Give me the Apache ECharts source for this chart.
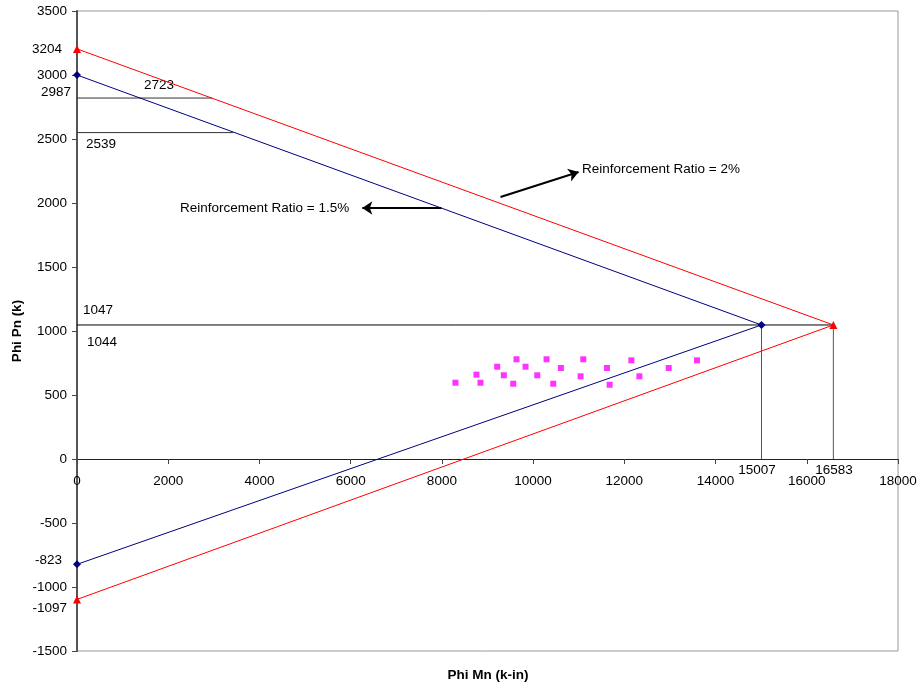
<!DOCTYPE html>
<html><head><meta charset="utf-8">
<script src="https://cdn.jsdelivr.net/npm/echarts@6/dist/echarts.min.js"></script>
<style>html,body{margin:0;padding:0;background:#fff}#c{width:920px;height:690px}</style>
</head><body><div id="c"></div>
<script>
// Interaction diagram data (Phi Mn in k-in, Phi Pn in k)
const ratio15 = [[0, 3000], [15007, 1047], [0, -823]];
const ratio20 = [[0, 3204], [16583, 1047], [0, -1097]];
const loadPoints = [
  [8297, 596], [8758, 659], [8846, 596], [9213, 721], [9358, 654],
  [9636, 779], [9564, 588], [9834, 721], [10091, 654], [10295, 779],
  [10442, 588], [10609, 711], [11041, 646], [11100, 779], [11619, 711],
  [11678, 580], [12154, 771], [12330, 646], [12973, 711], [13594, 771]
];
const refLines = [
  { data: [[0, 1047], [16583, 1047]], color: '#000' },
  { data: [[15007, 1047], [15007, 0]], color: '#555' },
  { data: [[16583, 1047], [16583, 0]], color: '#555' },
  { data: [[0, 2820], [2960, 2820]], color: '#333' },
  { data: [[0, 2550], [3420, 2550]], color: '#333' }
];
const arrows = [
  [[7990, 1961], [6255, 1961]],
  [[9285, 2047], [10997, 2242]]
];
const xTicks = { min: 0, max: 18000, interval: 2000 };
const yTicks = { min: -1500, max: 3500, interval: 500 };
const valueLabels = [
  { text: '3204', x: 62, y: 49, align: 'right' },
  { text: '2987', x: 71, y: 92, align: 'right' },
  { text: '2723', x: 144, y: 85, align: 'left' },
  { text: '2539', x: 86, y: 144, align: 'left' },
  { text: '1047', x: 83, y: 310, align: 'left' },
  { text: '1044', x: 87, y: 342, align: 'left' },
  { text: '-823', x: 62, y: 560, align: 'right' },
  { text: '-1097', x: 67, y: 608, align: 'right' },
  { text: '15007', x: 757, y: 470, align: 'center' },
  { text: '16583', x: 834, y: 470, align: 'center' }
];
const notes = [
  { text: 'Reinforcement Ratio = 1.5%', x: 180, y: 208 },
  { text: 'Reinforcement Ratio = 2%', x: 582, y: 169 }
];
const titles = { x: 'Phi Mn (k-in)', y: 'Phi Pn (k)' };

const FONT = 'Liberation Sans, Arial, sans-serif';
const FS = 13.5;
const series = [];
refLines.forEach(r => series.push({
  type: 'line', data: r.data, symbol: 'none', silent: true,
  lineStyle: { color: r.color, width: 1 }, z: 1
}));
series.push({
  type: 'line', data: ratio15, symbol: 'diamond', symbolSize: 8,
  itemStyle: { color: '#000080' }, lineStyle: { color: '#000080', width: 1 }, z: 3
});
series.push({
  type: 'line', data: ratio20, symbol: 'triangle', symbolSize: 8,
  itemStyle: { color: '#FF0000' }, lineStyle: { color: '#FF0000', width: 1 }, z: 3
});
series.push({
  type: 'scatter', data: loadPoints, symbol: 'rect', symbolSize: 6,
  itemStyle: { color: '#FF00FF' }, z: 4
});
series.push({
  type: 'lines', coordinateSystem: 'cartesian2d',
  data: arrows.map(a => ({ coords: a })),
  symbol: ['none', 'arrow'], symbolSize: 10,
  lineStyle: { color: '#000', width: 2, opacity: 1 }, z: 5
});

const graphic = valueLabels.map(l => ({
  type: 'text', x: l.x, y: l.y,
  style: { text: l.text, font: FS + 'px ' + FONT, fill: '#000', align: l.align, verticalAlign: 'middle' }
})).concat(notes.map(n => ({
  type: 'text', x: n.x, y: n.y,
  style: { text: n.text, font: FS + 'px ' + FONT, fill: '#000', align: 'left', verticalAlign: 'middle' }
}))).concat([
  { type: 'text', x: 488, y: 675,
    style: { text: titles.x, font: 'bold ' + FS + 'px ' + FONT, fill: '#000', align: 'center', verticalAlign: 'middle' } },
  { type: 'text', x: 17, y: 331, rotation: Math.PI / 2,
    style: { text: titles.y, font: 'bold ' + FS + 'px ' + FONT, fill: '#000', align: 'center', verticalAlign: 'middle' } }
]);

const fmt = v => String(v);
const chart = echarts.init(document.getElementById('c'), null, { renderer: 'canvas' });
chart.setOption({
  animation: false,
  backgroundColor: '#fff',
  grid: { left: 77, right: 22, top: 11, bottom: 39, show: true, borderColor: '#999', borderWidth: 1,
          containLabel: false, outerBoundsMode: 'none' },
  xAxis: {
    type: 'value', min: xTicks.min, max: xTicks.max, interval: xTicks.interval,
    offset: -192,
    axisLine: { onZero: false, lineStyle: { color: '#222', width: 1 } },
    axisTick: { show: true, length: 5, lineStyle: { color: '#444' } },
    axisLabel: { fontFamily: FONT, fontSize: FS, color: '#000', margin: 15, formatter: fmt },
    splitLine: { show: false }
  },
  yAxis: {
    type: 'value', min: yTicks.min, max: yTicks.max, interval: yTicks.interval,
    axisLine: { show: true, onZero: false, lineStyle: { color: '#555', width: 2 } },
    axisTick: { show: true, length: 5, lineStyle: { color: '#444' } },
    axisLabel: { fontFamily: FONT, fontSize: FS, color: '#000', margin: 10, formatter: fmt },
    splitLine: { show: false }
  },
  graphic: graphic,
  series: series
});
</script></body></html>
